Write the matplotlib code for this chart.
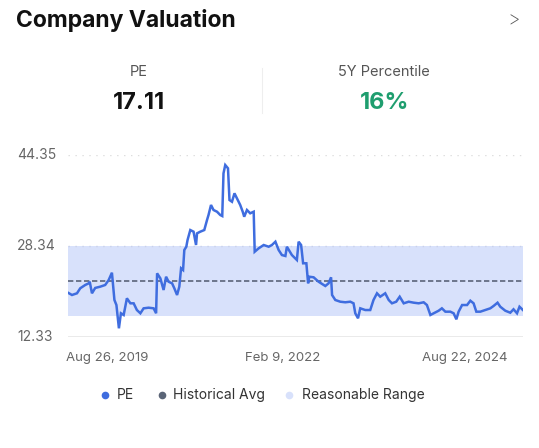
import matplotlib
matplotlib.use("Agg")
import matplotlib.pyplot as plt
import matplotlib.dates as mdates
import numpy as np
import pandas as pd

plt.rcParams['font.family'] = ['Inter', 'DejaVu Sans']

# ---- data ----
start_date = "2019-08-26"
days_since_start = [0, 16, 36, 49, 69, 83, 87, 96, 109, 129, 149, 163, 176, 186, 194, 204, 212, 223,
                    236, 250, 263, 276, 290, 303, 323, 343, 353, 357, 370, 383, 393, 403, 417, 426,
                    437, 446, 453, 461, 466, 474, 479, 490, 503, 513, 517, 530, 546, 557, 563, 573,
                    583, 597, 610, 618, 623, 630, 641, 647, 657, 667, 680, 690, 700, 706, 717, 730,
                    744, 748, 764, 784, 804, 817, 831, 844, 857, 871, 877, 897, 917, 924, 934, 942,
                    955, 962, 967, 984, 1004, 1018, 1031, 1044, 1054, 1058, 1071, 1091, 1111, 1131,
                    1144, 1151, 1162, 1171, 1191, 1211, 1224, 1238, 1251, 1271, 1285, 1298, 1315,
                    1329, 1345, 1365, 1385, 1405, 1425, 1438, 1452, 1465, 1485, 1498, 1512, 1532,
                    1545, 1556, 1565, 1579, 1599, 1612, 1625, 1636, 1652, 1672, 1692, 1705, 1721,
                    1732, 1752, 1772, 1785, 1799, 1809, 1823]
pe_values = [20.16, 19.76, 20.06, 20.94, 21.52, 21.81, 22.10, 20.06, 21.00, 21.22, 21.52, 22.39, 23.68,
             18.88, 18.00, 13.91, 16.55, 16.25, 19.18, 18.30, 18.30, 17.12, 16.55, 17.42, 17.53, 17.42,
             16.55, 23.57, 22.69, 20.64, 22.97, 22.09, 21.81, 20.94, 19.76, 21.22, 24.45, 24.15, 27.66,
             28.24, 29.42, 31.17, 30.88, 28.54, 30.59, 30.88, 31.17, 32.93, 33.81, 35.57, 34.69, 34.39,
             33.81, 33.63, 41.13, 42.59, 42.01, 36.44, 36.14, 37.62, 36.44, 35.57, 34.39, 33.51, 34.69,
             34.11, 34.39, 27.36, 27.96, 28.54, 28.24, 28.54, 29.12, 27.66, 26.78, 26.61, 28.24, 26.78,
             25.91, 29.12, 28.54, 25.33, 25.33, 21.81, 22.97, 22.87, 22.09, 21.69, 21.34, 21.81, 22.87,
             19.76, 18.88, 18.58, 18.48, 18.58, 18.30, 16.55, 15.67, 17.42, 17.12, 17.12, 18.88, 20.06,
             19.46, 20.06, 18.88, 18.30, 18.58, 19.46, 18.30, 18.58, 18.41, 18.30, 18.48, 18.00, 16.25,
             16.55, 17.00, 17.42, 16.83, 16.83, 16.55, 15.49, 16.83, 18.00, 18.00, 18.76, 18.30, 16.83,
             16.83, 17.12, 17.42, 17.83, 18.41, 17.70, 17.00, 16.65, 17.25, 16.55, 17.70, 17.11]
historical_avg = 22.16
range_low, range_high = 16.07, 28.34
y_ticks = [12.33, 28.34, 44.35]
x_tick_labels = ["Aug 26, 2019", "Feb 9, 2022", "Aug 22, 2024"]
x_tick_dates = ["2019-08-26", "2022-02-09", "2024-08-22"]
current_pe = "17.11"
percentile = "16%"

dates = pd.to_datetime(start_date) + pd.to_timedelta(days_since_start, unit="D")

# ---- figure ----
W, H = 539, 448
fig = plt.figure(figsize=(W / 100, H / 100), dpi=100)
fig.patch.set_facecolor("white")

def px(x, y):
    return x / W, 1 - y / H

# header
fig.text(*px(16, 21), "Company Valuation", fontsize=16.5, fontweight="bold", color="#111111",
         va="center", ha="left")
fig.text(*px(514, 20), ">", fontsize=14, fontweight="light", color="#555555", va="center", ha="center")
fig.text(*px(139, 72), "PE", fontsize=10.5, color="#555555", va="center", ha="center")
fig.text(*px(139, 103), current_pe, fontsize=17, fontweight="bold", color="#111111",
         va="center", ha="center")
fig.text(*px(384, 72), "5Y Percentile", fontsize=10.5, color="#555555", va="center", ha="center")
fig.text(*px(385, 103), percentile, fontsize=17, fontweight="bold", color="#1f9e6f",
         va="center", ha="center")
fig.add_artist(plt.Line2D([262 / W, 262 / W], [1 - 68 / H, 1 - 113 / H], color="#eeeeee", lw=0.8))

# chart
left, right, top, bottom = 68, 523, 155, 337.3
ax = fig.add_axes([left / W, 1 - bottom / H, (right - left) / W, (bottom - top) / H])
ax.set_facecolor("none")
x0, x1 = dates[0], dates[-1]
ax.set_xlim(x0, x1)
ax.set_ylim(y_ticks[0], y_ticks[-1])

ax.axhspan(range_low, range_high, color="#d8e1fb", lw=0, zorder=0)
ax.axhline(y_ticks[2], color="#dddddd", lw=1, ls=(0, (1, 4)), zorder=1)
ax.axhline(y_ticks[1], color="#c9d1ea", lw=1, ls=(0, (1, 4)), zorder=1)
ax.axhline(y_ticks[0], color="#e6e6e6", lw=1.2, zorder=1)
ax.axhline(historical_avg, color="#5b6479", lw=1.2, ls=(0, (3.2, 1.6)), zorder=2)
ax.plot(dates, pe_values, color="#3f6ddf", lw=1.8, zorder=3, solid_joinstyle="miter")

for s in ax.spines.values():
    s.set_visible(False)
ax.set_xticks([])
ax.set_yticks([])

for v in y_ticks:
    ax.text(-51 / (right - left), v, f"{v:.2f}", transform=ax.get_yaxis_transform(),
            fontsize=10, color="#666666", va="center", ha="left")

xd = pd.to_datetime(x_tick_dates)
has = ["left", "center", "right"]
offs = [-2, -9, -16]
for d, lab, ha, o in zip(xd, x_tick_labels, has, offs):
    xp = mdates.date2num(d)
    disp = ax.transData.transform((xp, 0))[0] + o
    fig.text(disp / W, 1 - 358 / H, lab, fontsize=9.5, color="#666666", va="center", ha=ha)

# legend
ly = 395
for mx, tx, col, lab in [(105, 117, "#3f6ddf", "PE"),
                         (161.5, 173, "#5b6577", "Historical Avg"),
                         (289, 302, "#d8e1fb", "Reasonable Range")]:
    fig.add_artist(plt.Line2D([mx / W], [1 - ly / H], marker="o", markersize=5.5,
                              color=col, markeredgewidth=0, ls="none"))
    fig.text(tx / W, 1 - ly / H, lab, fontsize=10, color="#333333", va="center", ha="left")

fig.savefig("out.png", dpi=100, facecolor="white")
